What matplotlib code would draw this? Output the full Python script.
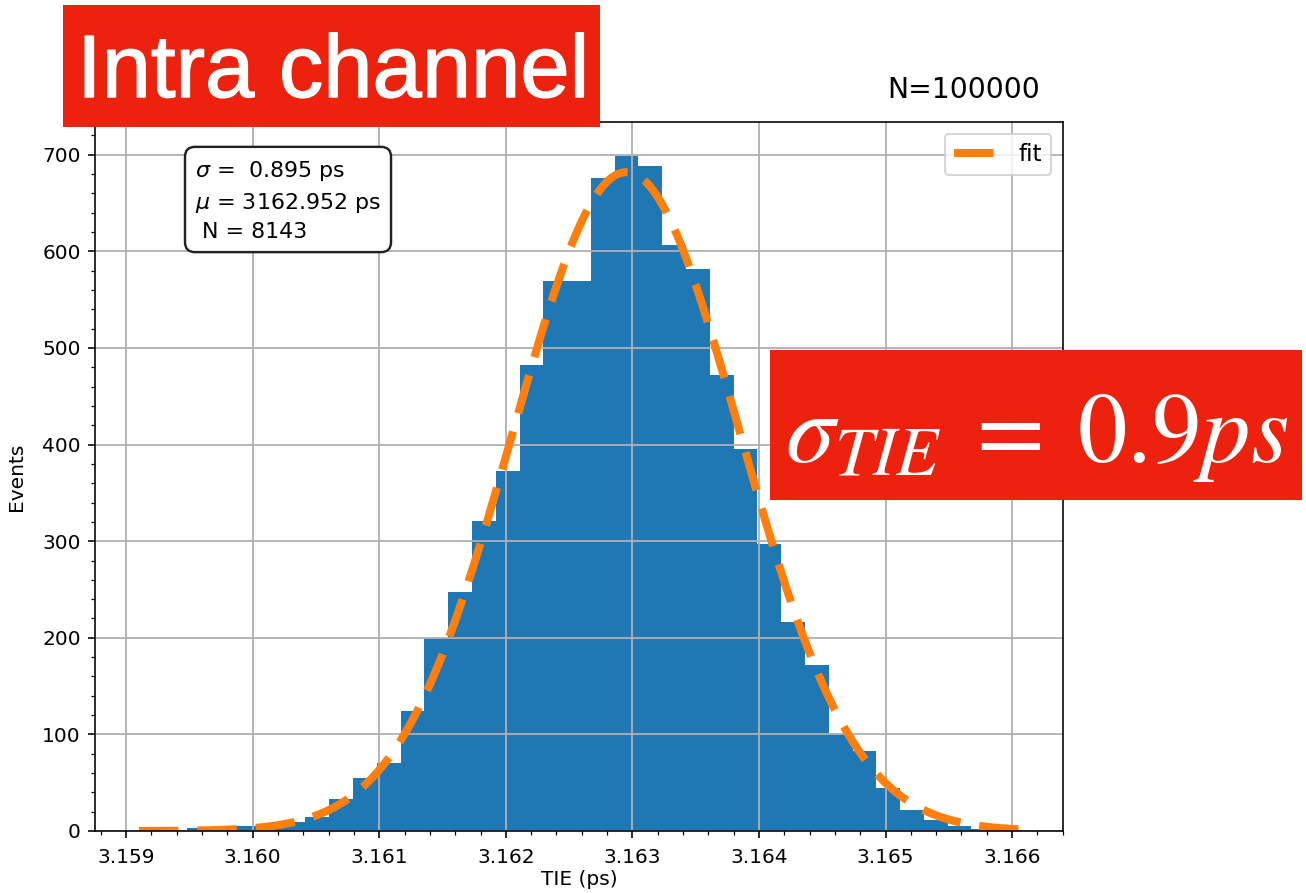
import numpy as np
import matplotlib
matplotlib.use("Agg")
import matplotlib.pyplot as plt
import matplotlib.patheffects as pe
from matplotlib.patches import Rectangle

# Histogram of time-interval-error values (in ns on the axis), 37 equal bins
bin_start = 3.159102
bin_width = 0.0001879
counts = [1, 0, 3, 2, 5, 6, 9, 14, 33, 55, 70, 124, 200, 247, 321, 373,
          482, 569, 569, 676, 699, 688, 607, 582, 472, 395, 297, 216, 172,
          100, 83, 44, 22, 11, 5, 2, 1]

# Gaussian fit results
fit_sigma_ps = 0.895
fit_mu_ps = 3162.952
n_entries = 8143
n_total = 100000

title_text = "N=%d" % n_total
tag_text = "Intra channel"
sigma_text = r"$\sigma_{TIE}\;=\;0.9ps$"
red = "#EC220E"

plt.rcParams["mathtext.fontset"] = "dejavusans"

W, H, DPI = 1306, 893, 145
fig = plt.figure(figsize=(W / DPI, H / DPI), dpi=DPI)
ax = fig.add_axes([95 / W, 62 / H, 968 / W, 709 / H])

edges = bin_start + bin_width * np.arange(len(counts) + 1)
centers = 0.5 * (edges[:-1] + edges[1:])
ax.hist(centers, bins=edges, weights=counts, color="#1f77b4")

mu = fit_mu_ps / 1000.0
sig = fit_sigma_ps / 1000.0
amp = n_entries * bin_width / (np.sqrt(2 * np.pi) * sig)
xf = np.linspace(edges[0], edges[-1], 400)
yf = amp * np.exp(-0.5 * ((xf - mu) / sig) ** 2)
ax.plot(xf, yf, color="#ff7f0e", lw=4, linestyle=(0, (4.9, 2.35)), label="fit")

ax.grid(True, color="#b0b0b0", lw=0.9)
ax.minorticks_on()
ax.tick_params(labelsize=10)
ax.tick_params(axis="x", which="major", pad=5)
ax.set_xlabel("TIE (ps)", fontsize=10, labelpad=1.5)
ax.set_ylabel("Events", fontsize=10, labelpad=8)
ax.set_xticks([3.159, 3.160, 3.161, 3.162, 3.163, 3.164, 3.165, 3.166])
ax.set_xticklabels(["3.159", "3.160", "3.161", "3.162", "3.163", "3.164", "3.165", "3.166"])
ax.legend(loc="upper right", fontsize=11.5)

ax.text(0.976, 1.034, title_text, transform=ax.transAxes, ha="right",
        va="baseline", fontsize=14)

info = ("$\\sigma$ =  %.3f ps\n$\\mu$ = %.3f ps\n N = %d"
        % (fit_sigma_ps, fit_mu_ps, n_entries))
ax.text(0.1994, 0.8893, info, transform=ax.transAxes, ha="center", va="center",
        multialignment="left", fontsize=11, linespacing=1.45,
        bbox=dict(boxstyle="round,pad=0.45", facecolor="white",
                  edgecolor="#222222", lw=1.2))

# Slide annotations on top of the plot
fig.add_artist(Rectangle((63 / W, 1 - 127 / H), (600 - 63) / W, (127 - 5) / H,
                         transform=fig.transFigure, facecolor=red,
                         edgecolor="none", zorder=10))
fig.text(333 / W, 1 - 97 / H, tag_text, color="white", fontsize=44,
         family="Liberation Sans", ha="center", va="baseline", zorder=11,
         path_effects=[pe.withStroke(linewidth=0.7, foreground="white")])

fig.add_artist(Rectangle((770 / W, 1 - 500 / H), (1302 - 770) / W, (500 - 350) / H,
                         transform=fig.transFigure, facecolor=red,
                         edgecolor="none", zorder=10))
fig.text(785 / W, 1 - 462 / H, sigma_text, color="white", fontsize=49,
         ha="left", va="baseline", zorder=11, math_fontfamily="stix")

fig.savefig("out.png", dpi=DPI)
